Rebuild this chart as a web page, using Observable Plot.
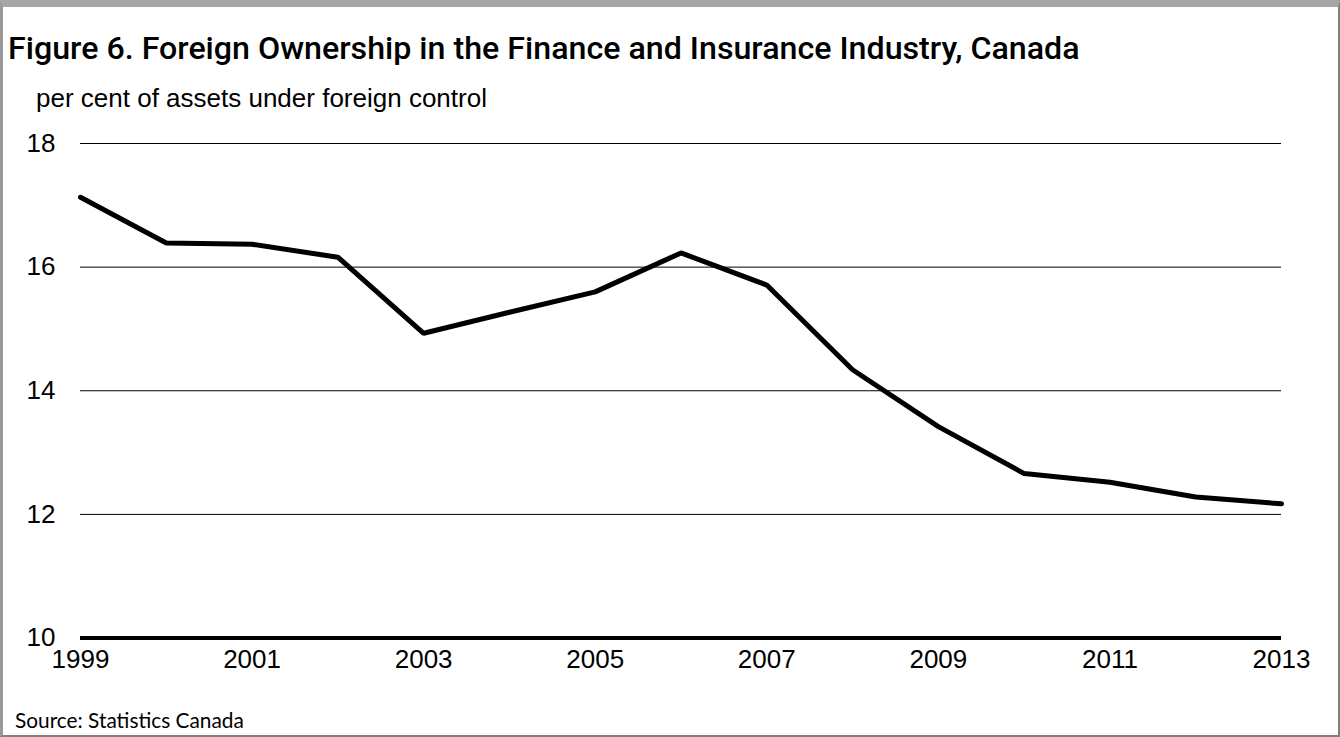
<!DOCTYPE html>
<html>
<head>
<meta charset="utf-8">
<script src="https://cdn.jsdelivr.net/npm/d3@7"></script>
<script src="https://cdn.jsdelivr.net/npm/@observablehq/plot@0.6"></script>
<style>
  html, body { margin: 0; padding: 0; background: #fff; }
  #wrap { position: relative; width: 1340px; height: 737px; background: #fff; overflow: hidden; }
  #title { position: absolute; left: 8px; top: 28px; font-family: Roboto, sans-serif; font-weight: 500; font-size: 27px; line-height: 40px; white-space: nowrap; color: #000; }
  #sub { position: absolute; left: 36px; top: 83px; font-family: "Liberation Sans", Arial, sans-serif; font-size: 26px; line-height: 30px; white-space: nowrap; color: #000; }
  #chart { position: absolute; left: 0; top: 115px; }
  #src { position: absolute; left: 15px; top: 708px; font-family: Lato, sans-serif; font-size: 18px; line-height: 24px; white-space: nowrap; color: #000; }
  #border { position: absolute; left: 0; top: 0; width: 1340px; height: 737px; box-sizing: border-box; border-top: 7px solid #a6a6a6; border-left: 3px solid #999; border-right: 2px solid #808080; border-bottom: 2px solid #808080; pointer-events: none; }
</style>
</head>
<body>
<div id="wrap">
  <div id="title">Figure 6. Foreign Ownership in the Finance and Insurance Industry, Canada</div>
  <div id="sub">per cent of assets under foreign control</div>
  <div id="chart"></div>
  <div id="src">Source: Statistics Canada</div>
  <div id="border"></div>
</div>
<script>
const years = [1999, 2000, 2001, 2002, 2003, 2004, 2005, 2006, 2007, 2008, 2009, 2010, 2011, 2012, 2013];
const share = [17.13, 16.39, 16.37, 16.16, 14.93, 15.27, 15.60, 16.23, 15.71, 14.34, 13.42, 12.66, 12.52, 12.28, 12.17];
const xTicks = [1999, 2001, 2003, 2005, 2007, 2009, 2011, 2013];
const yTicks = [10, 12, 14, 16, 18];
const gridValues = [12, 14, 16, 18];
const baseValue = [10];

const data = years.map((y, i) => ({year: y, value: share[i]}));

const chart = Plot.plot({
  width: 1340,
  height: 580,
  marginLeft: 80,
  marginRight: 59,
  marginTop: 28,
  marginBottom: 57.5,
  style: {fontFamily: "'Liberation Sans', Arial, sans-serif", fontSize: "26px", color: "#000", background: "transparent", overflow: "visible"},
  x: {domain: [1999, 2013], ticks: xTicks, tickFormat: d => String(d), tickSize: 0, tickPadding: 12, label: null},
  y: {domain: [10, 18], ticks: yTicks, tickSize: 0, tickPadding: 25, label: null},
  marks: [
    Plot.ruleY(gridValues, {stroke: "#000", strokeWidth: 1}),
    Plot.ruleY(baseValue, {stroke: "#000", strokeWidth: 4}),
    Plot.line(data, {x: "year", y: "value", stroke: "#000", strokeWidth: 5, strokeLinejoin: "miter", strokeLinecap: "round"}),
    Plot.axisX({ticks: xTicks, tickFormat: d => String(d), tickSize: 0, tickPadding: 12, fill: "#000"}),
    Plot.axisY({ticks: yTicks, tickSize: 0, tickPadding: 25, fill: "#000"})
  ]
});
document.getElementById("chart").appendChild(chart);

// fit text widths to reference extents
function fitWidth(id, target) {
  const el = document.getElementById(id);
  const fs = parseFloat(getComputedStyle(el).fontSize);
  const w = el.getBoundingClientRect().width;
  if (w > 0) el.style.fontSize = (fs * target / w) + "px";
}
fitWidth("title", 1072);
fitWidth("src", 229);
</script>
</body>
</html>
